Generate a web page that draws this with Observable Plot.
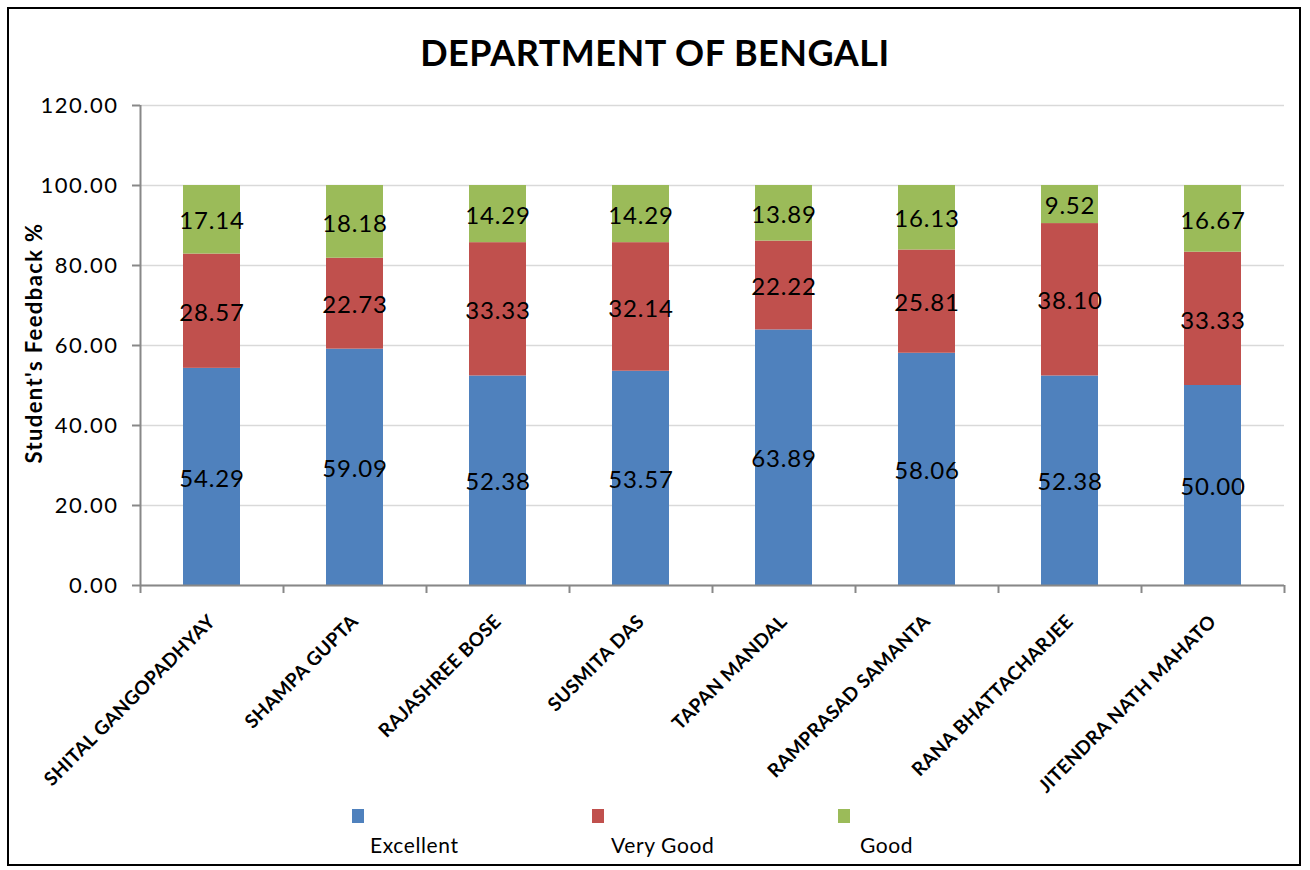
<!DOCTYPE html>
<html>
<head>
<meta charset="utf-8">
<script src="https://cdn.jsdelivr.net/npm/d3@7"></script>
<script src="https://cdn.jsdelivr.net/npm/@observablehq/plot@0.6"></script>
<style>
  html, body { margin: 0; padding: 0; background: #fff; }
  #wrap { position: relative; width: 1310px; height: 870px; font-family: Lato, "Open Sans", sans-serif; }
  #border { position: absolute; left: 7px; top: 7px; width: 1294px; height: 859px; border: 2px solid #000; box-sizing: border-box; pointer-events: none; }
  #title { position: absolute; left: 0; width: 1310px; top: 30px; text-align: center; font-weight: bold; font-size: 36px; letter-spacing: 0.5px; color: #000; }
  #ylabel { position: absolute; left: 33px; top: 343px; transform: translate(-50%, -50%) rotate(-90deg); font-weight: bold; font-size: 22px; letter-spacing: 1.4px; white-space: nowrap; color: #000; }
  .sw { position: absolute; width: 12px; height: 14px; top: 809px; }
  .lt { position: absolute; top: 832px; font-size: 21px; letter-spacing: 0.6px; color: #000; white-space: nowrap; }
  #chart { position: absolute; left: 0; top: 0; }
  #chart svg g[aria-label="y-axis tick label"] text { letter-spacing: 1.5px; }
  #chart svg g[aria-label="x-axis tick label"] text { letter-spacing: 0.3px; }
  #chart svg g[aria-label="text"] text { letter-spacing: 0.8px; }
</style>
</head>
<body>
<div id="wrap">
  <div id="chart"></div>
  <div id="title">DEPARTMENT OF BENGALI</div>
  <div id="ylabel">Student's Feedback %</div>
  <div id="legend"></div>
  <div id="border"></div>
</div>
<script>
const categories = ["SHITAL GANGOPADHYAY", "SHAMPA GUPTA", "RAJASHREE BOSE", "SUSMITA DAS", "TAPAN MANDAL", "RAMPRASAD SAMANTA", "RANA BHATTACHARJEE", "JITENDRA NATH MAHATO"];
const seriesNames = ["Excellent", "Very Good", "Good"];
const excellent = [54.29, 59.09, 52.38, 53.57, 63.89, 58.06, 52.38, 50.00];
const veryGood = [28.57, 22.73, 33.33, 32.14, 22.22, 25.81, 38.10, 33.33];
const good = [17.14, 18.18, 14.29, 14.29, 13.89, 16.13, 9.52, 16.67];
const yTicks = [0, 20, 40, 60, 80, 100, 120];
const colors = ["#4F81BD", "#C0504D", "#9BBB59"];

const seriesValues = [excellent, veryGood, good];
const data = [];
seriesNames.forEach((s, si) => categories.forEach((c, ci) => data.push({category: c, series: s, value: seriesValues[si][ci]})));

const W = 1310, H = 870, mL = 140, mR = 26, mT = 105, mB = 285;
const step = (W - mL - mR) / categories.length;

const plot = Plot.plot({
  width: W, height: H,
  marginLeft: mL, marginRight: mR, marginTop: mT, marginBottom: mB,
  style: {fontFamily: "Lato, 'Open Sans', sans-serif", background: "transparent"},
  x: {domain: categories, paddingInner: 0.6, paddingOuter: 0.3, label: null},
  y: {domain: [0, 120], ticks: yTicks, label: null},
  color: {domain: seriesNames, range: colors},
  marks: [
    Plot.gridY(yTicks, {stroke: "#d9d9d9", strokeOpacity: 1, strokeWidth: 1.5}),
    Plot.barY(data, Plot.stackY({x: "category", y: "value", fill: "series", z: "series", order: seriesNames})),
    Plot.text(data, Plot.stackY({x: "category", y: "value", z: "series", order: seriesNames, text: d => d.value.toFixed(2), fontSize: 24, fill: "#000", dy: 2})),
    Plot.ruleY([0], {stroke: "#888", strokeWidth: 2}),
    Plot.ruleX([categories[0]], {dx: -step / 2, y1: 0, y2: 120, stroke: "#888", strokeWidth: 2}),
    Plot.ruleX(categories, {dx: -step / 2, y1: 0, y2: 0, insetBottom: -8, stroke: "#888", strokeWidth: 2}),
    Plot.ruleX([categories[categories.length - 1]], {dx: step / 2, y1: 0, y2: 0, insetBottom: -8, stroke: "#888", strokeWidth: 2}),
    Plot.axisY({ticks: yTicks, tickFormat: d3.format(".2f"), tickSize: 8, tickPadding: 14, fontSize: 22, stroke: "#888", strokeWidth: 2, fill: "#000", label: null}),
    Plot.axisX({tickSize: 0, tickPadding: 33, tickRotate: -45, fontSize: 19, fontWeight: "bold", fill: "#000", label: null})
  ]
});
document.getElementById("chart").appendChild(plot);

const legend = document.getElementById("legend");
const swX = [352, 592, 838];
const ltX = [370, 611, 860];
seriesNames.forEach((s, i) => {
  const sw = document.createElement("div");
  sw.className = "sw"; sw.style.left = swX[i] + "px"; sw.style.background = colors[i];
  legend.appendChild(sw);
  const lt = document.createElement("div");
  lt.className = "lt"; lt.style.left = ltX[i] + "px"; lt.textContent = s;
  legend.appendChild(lt);
});
</script>
</body>
</html>
